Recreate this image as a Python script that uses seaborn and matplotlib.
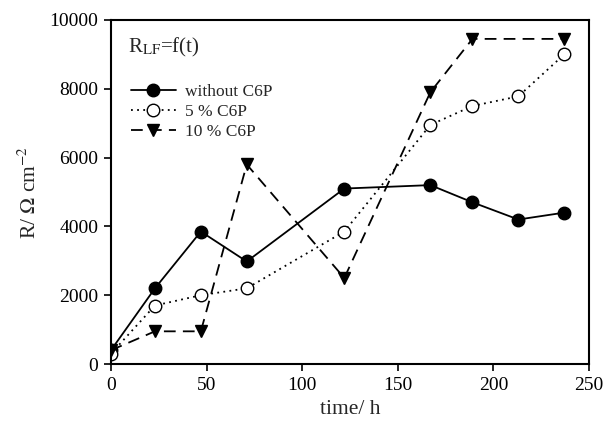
import matplotlib
matplotlib.use("Agg")
import matplotlib.pyplot as plt
import seaborn as sns
import pandas as pd

# Measurement times (h) and low-frequency resistance values (Ohm cm^-2)
time_h = [0, 23, 47, 71, 122, 167, 189, 213, 237]
r_without = [400, 2200, 3850, 2980, 5100, 5200, 4700, 4200, 4400]
r_5pct = [300, 1700, 2000, 2200, 3850, 6950, 7500, 7780, 9000]
time_10 = [0, 23, 47, 71, 122, 167, 189, 237]
r_10pct = [400, 950, 950, 5800, 2500, 7900, 9450, 9450]

labels = ["without C6P", "5 % C6P", "10 % C6P"]
x_ticks = [0, 50, 100, 150, 200, 250]
y_ticks = [0, 2000, 4000, 6000, 8000, 10000]

sns.set_theme(style="ticks")
plt.rcParams["font.family"] = ["Liberation Serif", "DejaVu Serif"]
plt.rcParams["mathtext.fontset"] = "stix"

fig = plt.figure(figsize=(6.03, 4.25), dpi=100)
ax = fig.add_axes([0.184, 0.1435, 0.793, 0.8095])

series = [
    (time_h, r_without, dict(marker="o", markersize=9, markerfacecolor="black",
                             markeredgecolor="black", linestyle="-")),
    (time_h, r_5pct, dict(marker="o", markersize=9, markerfacecolor="white",
                          markeredgecolor="black", linestyle=(0, (1, 2.4)))),
    (time_10, r_10pct, dict(marker="v", markersize=9, markerfacecolor="black",
                            markeredgecolor="black", linestyle=(0, (6.5, 4)))),
]

for (xs, ys, kw), lab in zip(series, labels):
    df = pd.DataFrame({"t": xs, "R": ys})
    sns.lineplot(data=df, x="t", y="R", ax=ax, color="black", linewidth=1.3,
                 label=lab, markeredgewidth=1.0, **kw)

ax.set_xlim(0, 250)
ax.set_ylim(0, 10000)
ax.set_xticks(x_ticks)
ax.set_yticks(y_ticks)
ax.tick_params(direction="out", length=5, width=1.2, pad=4,
               labelsize=14, colors="black")
for sp in ax.spines.values():
    sp.set_linewidth(1.5)
    sp.set_color("black")

ax.set_xlabel("time/ h", fontsize=15.5, labelpad=5)
ax.set_ylabel(r"R/ $\Omega$ cm$^{\mathrm{-2}}$", fontsize=15.5, labelpad=6)

ax.text(0.035, 0.905, r"R$_{\mathrm{LF}}$=f(t)", transform=ax.transAxes,
        fontsize=15, ha="left", va="baseline")

leg = ax.legend(loc="upper left", bbox_to_anchor=(0.027, 0.835), frameon=False,
                fontsize=12.5, handlelength=2.6, handletextpad=0.55,
                labelspacing=0.22, borderaxespad=0)

fig.savefig("out.png", dpi=100)
